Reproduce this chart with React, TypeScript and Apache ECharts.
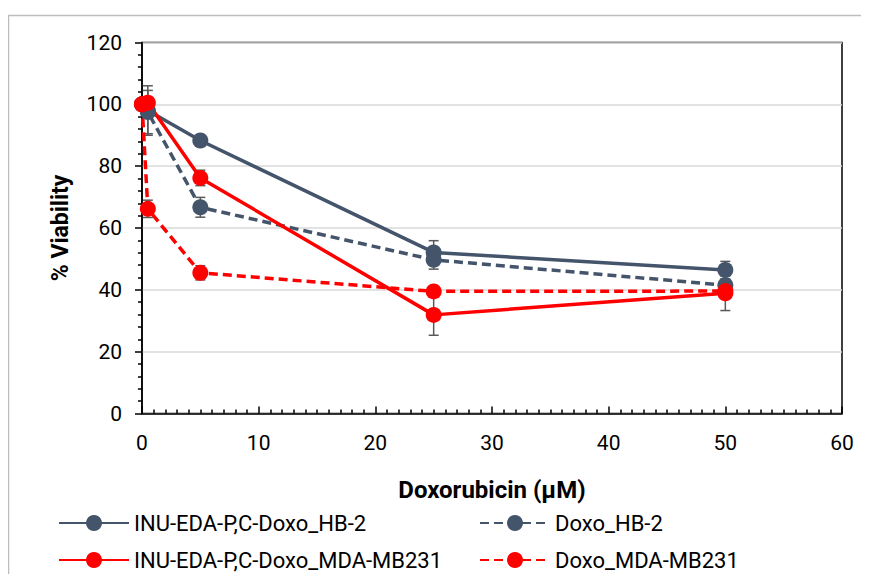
import React, { useEffect, useRef } from "react";
import * as echarts from "echarts";

const concentrations = [0, 0.5, 5, 25, 50];
const seriesNames = [
  "INU-EDA-P,C-Doxo_HB-2",
  "Doxo_HB-2",
  "INU-EDA-P,C-Doxo_MDA-MB231",
  "Doxo_MDA-MB231",
];
const conjHB2 = [100, 98, 88.3, 52.1, 46.4];
const conjHB2Sd = [0, 8, 1, 3.8, 2.8];
const doxoHB2 = [100, 97.5, 66.7, 49.7, 41.5];
const doxoHB2Sd = [0, 7, 3.2, 3, 1.5];
const conjMDA = [100, 100.5, 76.2, 31.9, 38.9];
const conjMDASd = [0, 1.5, 2.5, 6.6, 5.6];
const doxoMDA = [100, 66.2, 45.5, 39.5, 39.6];
const doxoMDASd = [0, 2.8, 2.3, 1.5, 1];

const xTicks = [0, 10, 20, 30, 40, 50, 60];
const yTicks = [0, 20, 40, 60, 80, 100, 120];

const GRAY = "#44546A";
const RED = "#FF0000";
const FONT = "Roboto, 'Liberation Sans', sans-serif";

function errorSeries(values: number[], sds: number[]) {
  return {
    type: "custom",
    silent: true,
    z: 1,
    data: concentrations.map((x, i) => [x, values[i] - sds[i], values[i] + sds[i]]),
    encode: { x: 0, y: [1, 2] },
    renderItem: (params: any, api: any) => {
      const x = api.value(0);
      const lo = api.coord([x, api.value(1)]);
      const hi = api.coord([x, api.value(2)]);
      if (Math.abs(lo[1] - hi[1]) < 0.5) return null;
      const w = 5;
      const style = { stroke: "#595959", lineWidth: 1.5 };
      return {
        type: "group",
        children: [
          { type: "line", shape: { x1: lo[0], y1: lo[1], x2: hi[0], y2: hi[1] }, style },
          { type: "line", shape: { x1: lo[0] - w, y1: lo[1], x2: lo[0] + w, y2: lo[1] }, style },
          { type: "line", shape: { x1: hi[0] - w, y1: hi[1], x2: hi[0] + w, y2: hi[1] }, style },
        ],
      };
    },
  };
}

function lineSeries(name: string, values: number[], color: string, dashed: boolean) {
  return {
    type: "line",
    name,
    z: 3,
    data: concentrations.map((x, i) => [x, values[i]]),
    symbol: "circle",
    symbolSize: 16,
    showSymbol: true,
    itemStyle: { color },
    lineStyle: { color, width: 3.5, type: dashed ? [9, 5] : "solid" },
  };
}

export default function App() {
  const ref = useRef<HTMLDivElement>(null);
  useEffect(() => {
    if (!ref.current) return;
    const chart = echarts.init(ref.current, null, { renderer: "svg" });
    const legendCommon = {
      orient: "vertical",
      top: 512,
      padding: 0,
      itemWidth: 70,
      itemHeight: 20,
      itemGap: 15,
      textStyle: { fontSize: 22, color: "#000", fontFamily: FONT },
    };
    chart.setOption({
      animation: false,
      backgroundColor: "#fff",
      textStyle: { fontFamily: FONT },
      grid: {
        left: 142,
        right: 27,
        top: 42.5,
        bottom: 168.5,
        show: true,
        borderColor: "#000",
        borderWidth: 1.5,
        backgroundColor: "transparent",
      },
      graphic: [
        {
          type: "rect",
          left: 6,
          top: 13,
          shape: { x: 0, y: 0, width: 880, height: 600 },
          style: { fill: "none", stroke: "#bdbdbd", lineWidth: 1.5 },
          silent: true,
          z: 0,
        },
      ],
      xAxis: {
        type: "value",
        min: xTicks[0],
        max: xTicks[xTicks.length - 1],
        interval: xTicks[1] - xTicks[0],
        name: "Doxorubicin (µM)",
        nameLocation: "middle",
        nameGap: 64,
        nameTextStyle: { fontSize: 24, fontWeight: "bold", color: "#000", fontFamily: FONT },
        axisLine: { show: true, lineStyle: { color: "#000", width: 1.5 } },
        axisTick: { show: true, inside: true, length: 7, lineStyle: { color: "#000", width: 1.5 } },
        minorTick: { show: true, splitNumber: 10, length: 4, lineStyle: { color: "#000", width: 1.5 } },
        axisLabel: { fontSize: 21, color: "#000", margin: 19, fontFamily: FONT },
        splitLine: { show: false },
      },
      yAxis: {
        type: "value",
        min: yTicks[0],
        max: yTicks[yTicks.length - 1],
        interval: yTicks[1] - yTicks[0],
        name: "% Viability",
        nameLocation: "middle",
        nameGap: 70,
        nameTextStyle: { fontSize: 23, fontWeight: "bold", color: "#000", fontFamily: FONT },
        axisLine: { show: true, lineStyle: { color: "#000", width: 1.5 } },
        axisTick: { show: true, inside: false, length: 7, lineStyle: { color: "#000", width: 1.5 } },
        minorTick: { show: true, splitNumber: 5, length: 4, lineStyle: { color: "#000", width: 1.5 } },
        axisLabel: { fontSize: 21, color: "#000", margin: 20, fontFamily: FONT },
        splitLine: { show: true, lineStyle: { color: "#d9d9d9", width: 1.5 } },
      },
      legend: [
        { ...legendCommon, data: [seriesNames[0], seriesNames[2]], left: 58 },
        { ...legendCommon, data: [seriesNames[1], seriesNames[3]], left: 479 },
      ],
      series: [
        errorSeries(conjHB2, conjHB2Sd),
        errorSeries(doxoHB2, doxoHB2Sd),
        errorSeries(conjMDA, conjMDASd),
        errorSeries(doxoMDA, doxoMDASd),
        lineSeries(seriesNames[0], conjHB2, GRAY, false),
        lineSeries(seriesNames[1], doxoHB2, GRAY, true),
        lineSeries(seriesNames[2], conjMDA, RED, false),
        lineSeries(seriesNames[3], doxoMDA, RED, true),
      ],
    });
    return () => chart.dispose();
  }, []);
  return <div ref={ref} style={{ width: 869, height: 582, margin: -8 }} />;
}
